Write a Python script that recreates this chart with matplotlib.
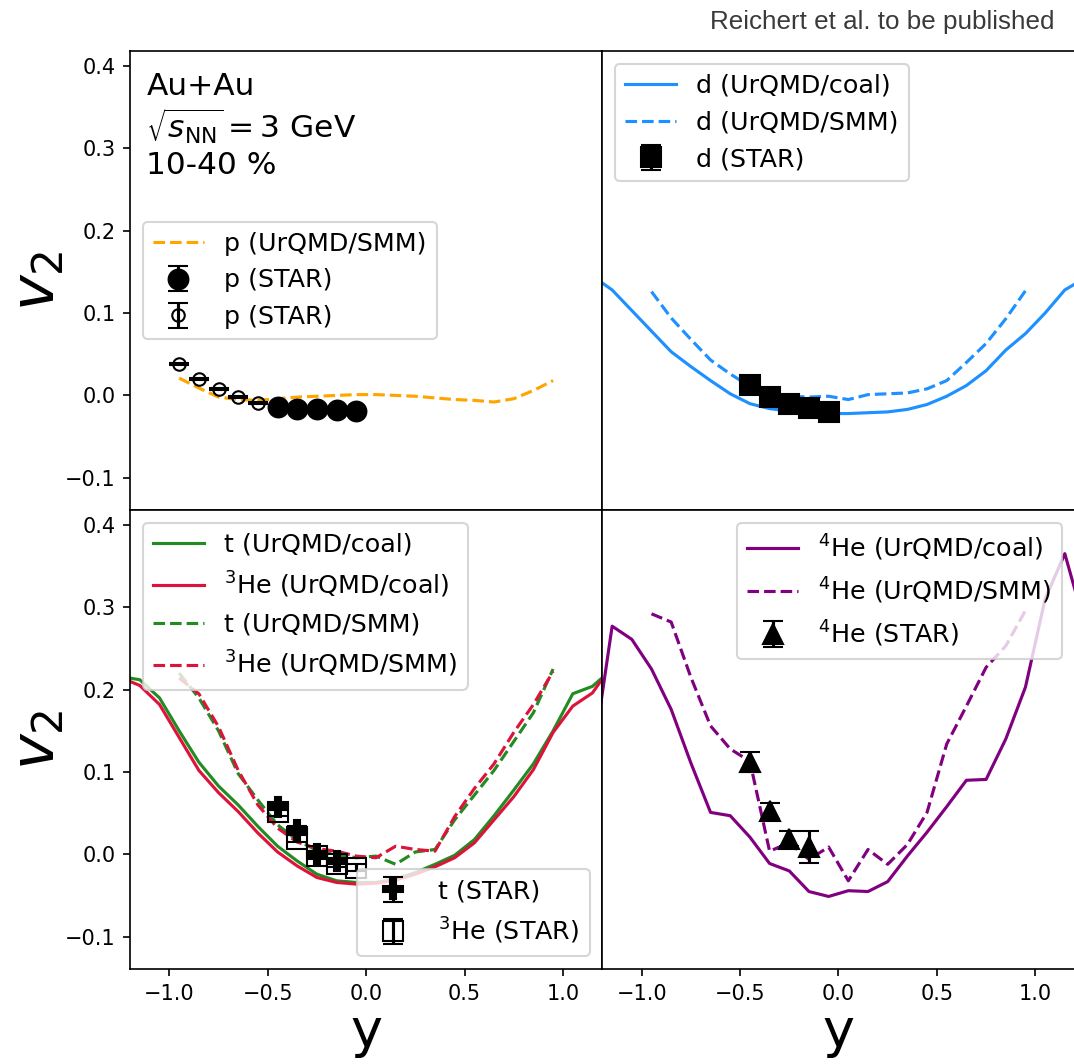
import matplotlib
matplotlib.use("Agg")
import matplotlib.pyplot as plt

# rapidity bins of the model curves
rap_coal = [-1.25, -1.15, -1.05, -0.95, -0.85, -0.75, -0.65, -0.55, -0.45, -0.35, -0.25, -0.15, -0.05,
            0.05, 0.15, 0.25, 0.35, 0.45, 0.55, 0.65, 0.75, 0.85, 0.95, 1.05, 1.15, 1.25]
rap_smm = [-0.95, -0.85, -0.75, -0.65, -0.55, -0.45, -0.35, -0.25, -0.15, -0.05,
           0.05, 0.15, 0.25, 0.35, 0.45, 0.55, 0.65, 0.75, 0.85, 0.95]

# protons
p_smm = [0.021, 0.009, -0.002, -0.005, -0.006, -0.004, -0.002, -0.001, 0.000, 0.001,
         0.001, 0.000, -0.001, -0.003, -0.005, -0.006, -0.008, -0.004, 0.006, 0.018]
p_star_y = [-0.45, -0.35, -0.25, -0.15, -0.05]
p_star_v2 = [-0.014, -0.016, -0.017, -0.018, -0.019]
p_star_err = [0.002, 0.002, 0.002, 0.002, 0.002]
p_star2_y = [-0.95, -0.85, -0.75, -0.65, -0.55]
p_star2_v2 = [0.038, 0.020, 0.008, -0.002, -0.009]
p_star2_err = [0.0015, 0.0015, 0.0015, 0.0015, 0.0015]

# deuterons
d_coal = [0.145, 0.128, 0.103, 0.078, 0.053, 0.035, 0.018, 0.002, -0.010, -0.016, -0.019, -0.021, -0.022,
          -0.022, -0.021, -0.020, -0.017, -0.011, -0.001, 0.012, 0.030, 0.055, 0.075, 0.100, 0.128, 0.142]
d_smm = [0.126, 0.094, 0.068, 0.043, 0.026, 0.011, 0.004, -0.001, -0.002, -0.001,
         -0.005, 0.001, 0.002, 0.003, 0.008, 0.018, 0.040, 0.063, 0.093, 0.127]
d_star_y = [-0.45, -0.35, -0.25, -0.15, -0.05]
d_star_v2 = [0.013, -0.002, -0.010, -0.015, -0.020]
d_star_err = [0.003, 0.003, 0.003, 0.003, 0.003]

# tritons and helium-3
t_coal = [0.216, 0.212, 0.190, 0.150, 0.112, 0.083, 0.060, 0.034, 0.010, -0.008, -0.024, -0.032, -0.034,
          -0.034, -0.030, -0.022, -0.012, -0.001, 0.018, 0.047, 0.078, 0.110, 0.150, 0.195, 0.204, 0.225]
he3_coal = [0.215, 0.205, 0.182, 0.142, 0.102, 0.075, 0.052, 0.026, 0.003, -0.014, -0.028, -0.034, -0.036,
            -0.035, -0.031, -0.024, -0.015, -0.004, 0.014, 0.042, 0.070, 0.103, 0.148, 0.180, 0.196, 0.230]
t_smm = [0.220, 0.190, 0.150, 0.098, 0.066, 0.036, 0.017, 0.005, 0.000, -0.004,
         -0.002, -0.012, 0.003, 0.006, 0.042, 0.072, 0.102, 0.137, 0.172, 0.225]
he3_smm = [0.214, 0.195, 0.155, 0.102, 0.060, 0.032, 0.015, 0.007, 0.004, -0.002,
           -0.004, 0.010, 0.006, 0.004, 0.046, 0.080, 0.110, 0.148, 0.182, 0.222]
t_star_y = [-0.45, -0.35, -0.25, -0.15]
t_star_v2 = [0.058, 0.030, 0.000, -0.008]
t_star_err = [0.004, 0.004, 0.004, 0.004]
he3_star_y = [-0.45, -0.35, -0.25, -0.15, -0.05]
he3_star_v2 = [0.051, 0.019, -0.002, -0.011, -0.016]
he3_star_err = [0.004, 0.004, 0.004, 0.004, 0.004]

# helium-4
he4_coal = [0.114, 0.277, 0.261, 0.225, 0.176, 0.111, 0.051, 0.047, 0.021, -0.011, -0.020, -0.045, -0.051,
            -0.044, -0.045, -0.033, -0.002, 0.027, 0.058, 0.090, 0.091, 0.140, 0.203, 0.310, 0.365, 0.280]
he4_smm = [0.292, 0.282, 0.215, 0.156, 0.128, 0.113, 0.004, 0.014, -0.006, 0.009,
           -0.032, 0.006, -0.012, 0.012, 0.051, 0.134, 0.180, 0.227, 0.253, 0.296]
he4_star_y = [-0.45, -0.35, -0.25, -0.15]
he4_star_v2 = [0.112, 0.053, 0.019, 0.009]
he4_star_err = [0.012, 0.010, 0.009, 0.019]

x_ticks = [-1.0, -0.5, 0.0, 0.5, 1.0]
y_ticks = [-0.1, 0.0, 0.1, 0.2, 0.3, 0.4]

fig = plt.figure(figsize=(1074 / 150, 1064 / 150), dpi=150)
axs = fig.subplots(2, 2, gridspec_kw=dict(left=0.121, right=1.0006, bottom=0.0893, top=0.9521,
                                           hspace=0, wspace=0))
ebar = dict(color="k", capsize=5, linestyle="none")

# top left: protons
ax = axs[0, 0]
ax.plot(rap_smm, p_smm, "--", color="orange", label="p (UrQMD/SMM)")
ax.errorbar(p_star_y, p_star_v2, yerr=p_star_err, fmt="o", ms=9.5, label="p (STAR)", **ebar)
ax.errorbar(p_star2_y, p_star2_v2, yerr=p_star2_err, fmt="o", ms=6, mfc="none",
            label="p (STAR)", **ebar)
ax.legend(loc="center left", fontsize=12.2)
ax.text(0.035, 0.955, "Au+Au\n$\\sqrt{s_{\\mathrm{NN}}} = 3$ GeV\n10-40 %",
        transform=ax.transAxes, fontsize=15, va="top", ha="left")

# top right: deuterons
ax = axs[0, 1]
ax.plot(rap_coal, d_coal, "-", color="dodgerblue", label="d (UrQMD/coal)")
ax.plot(rap_smm, d_smm, "--", color="dodgerblue", label="d (UrQMD/SMM)")
ax.errorbar(d_star_y, d_star_v2, yerr=d_star_err, fmt="s", ms=10, label="d (STAR)", **ebar)
ax.legend(loc="upper left", fontsize=12.2)

# bottom left: t and 3He
ax = axs[1, 0]
l1, = ax.plot(rap_coal, t_coal, "-", color="forestgreen", label="t (UrQMD/coal)")
l2, = ax.plot(rap_coal, he3_coal, "-", color="crimson", label="$^3$He (UrQMD/coal)")
l3, = ax.plot(rap_smm, t_smm, "--", color="forestgreen", label="t (UrQMD/SMM)")
l4, = ax.plot(rap_smm, he3_smm, "--", color="crimson", label="$^3$He (UrQMD/SMM)")
e1 = ax.errorbar(t_star_y, t_star_v2, yerr=t_star_err, fmt="P", ms=10, label="t (STAR)", **ebar)
e2 = ax.errorbar(he3_star_y, he3_star_v2, yerr=he3_star_err, fmt="s", ms=10, mfc="none",
                 label="$^3$He (STAR)", **ebar)
leg = ax.legend(handles=[l1, l2, l3, l4], loc="upper left", fontsize=12.2)
ax.add_artist(leg)
ax.legend(handles=[e1, e2], loc="lower right", fontsize=12.2)

# bottom right: 4He
ax = axs[1, 1]
ax.plot(rap_coal, he4_coal, "-", color="purple", label="$^4$He (UrQMD/coal)")
ax.plot(rap_smm, he4_smm, "--", color="purple", label="$^4$He (UrQMD/SMM)")
ax.errorbar(he4_star_y, he4_star_v2, yerr=he4_star_err, fmt="^", ms=10, label="$^4$He (STAR)", **ebar)
ax.legend(loc="upper right", fontsize=12.2)

for i in range(2):
    for j in range(2):
        ax = axs[i, j]
        ax.set_xlim(-1.2, 1.2)
        ax.set_ylim(-0.139, 0.418)
        ax.set_xticks(x_ticks)
        ax.set_yticks(y_ticks)
        if i == 0:
            ax.tick_params(bottom=False, labelbottom=False)
        else:
            ax.set_xlabel("y", fontsize=26, labelpad=1)
        if j == 1:
            ax.tick_params(left=False, labelleft=False)
        else:
            ax.set_ylabel("$v_2$", fontsize=29, labelpad=-1)

fig.text(1055 / 1074, 1 - 22 / 1064, "Reichert et al. to be published", ha="right", va="center",
         fontsize=12.5, color="#3a3a3a", family="Liberation Sans")

fig.savefig("out.png", dpi=150)
